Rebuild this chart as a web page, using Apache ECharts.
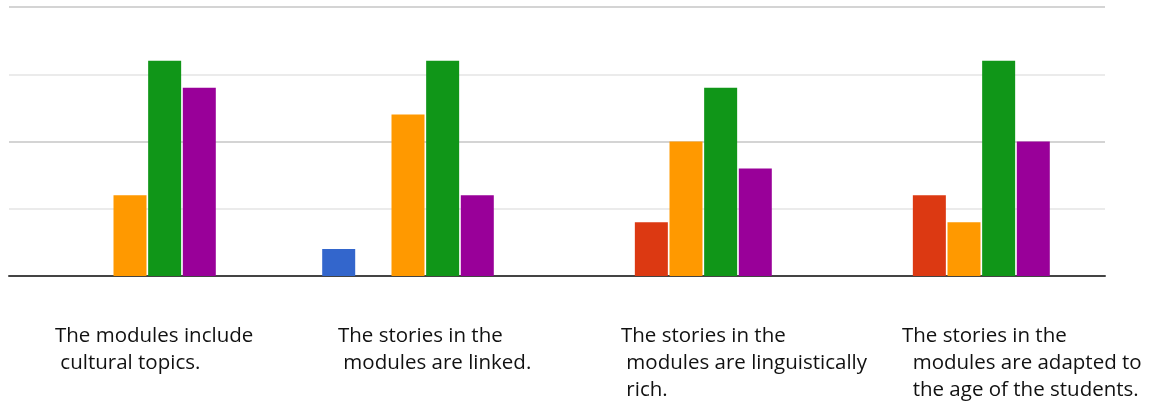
<!DOCTYPE html>
<html>
<head>
<meta charset="utf-8">
<script src="https://cdn.jsdelivr.net/npm/echarts@6/dist/echarts.min.js"></script>
<style>
  html, body { margin: 0; padding: 0; background: #fff; }
  #chart { width: 1149px; height: 410px; }
</style>
</head>
<body>
<div id="chart"></div>
<script>
// Survey statements (x categories); leading spaces indent the wrapped lines
const categories = [
  'The modules include\n cultural topics.',
  'The stories in the\n modules are linked.',
  'The stories in the\n modules are linguistically\n rich.',
  'The stories in the\n  modules are adapted to\n  the age of the students.'
];

// Response counts per answer option, one value per statement
const seriesNames = ['Option 1', 'Option 2', 'Option 3', 'Option 4', 'Option 5'];
const option1 = [0, 2, 0, 0];
const option2 = [0, 0, 4, 6];
const option3 = [6, 12, 10, 4];
const option4 = [16, 16, 14, 16];
const option5 = [14, 6, 8, 10];

// Value axis range
const yMin = 0;
const yMax = 20;
const yInterval = 10;

const palette = ['#3366cc', '#dc3912', '#ff9900', '#109618', '#990099'];
const seriesValues = [option1, option2, option3, option4, option5];

// Horizontal shift of each statement label from its category centre
const labelShift = [-75, -70, -65, -62];

const chart = echarts.init(document.getElementById('chart'), null, { renderer: 'canvas' });

const option = {
  animation: false,
  backgroundColor: '#ffffff',
  grid: [
    // bar groups: categories sit on the tick points from group 1 to group 4
    { left: 130, right: 185, top: 7, bottom: 134, containLabel: false },
    // gridlines and baseline across the full width
    { left: 9, right: 44, top: 7, bottom: 134, containLabel: false }
  ],
  xAxis: [
    {
      gridIndex: 0, type: 'category', data: categories, boundaryGap: false,
      axisLine: { show: false }, axisTick: { show: false }, axisLabel: { show: false },
      splitLine: { show: false }
    },
    {
      gridIndex: 1, type: 'category', data: ['', '', '', ''],
      axisLine: { show: true, lineStyle: { color: '#444444', width: 2 } },
      axisTick: { show: false }, axisLabel: { show: false }
    }
  ],
  yAxis: [
    {
      gridIndex: 0, type: 'value', min: yMin, max: yMax, interval: yInterval,
      axisLine: { show: false }, axisTick: { show: false }, axisLabel: { show: false },
      splitLine: { show: false }
    },
    {
      gridIndex: 1, type: 'value', min: yMin, max: yMax, interval: yInterval,
      axisLine: { show: false }, axisTick: { show: false }, axisLabel: { show: false },
      splitLine: { show: true, lineStyle: { color: '#d4d4d4', width: 2 } },
      minorTick: { show: false, splitNumber: 2 },
      minorSplitLine: { show: true, lineStyle: { color: '#ebebeb', width: 2 } }
    }
  ],
  series: seriesValues.map((vals, i) => ({
    name: seriesNames[i],
    type: 'bar',
    xAxisIndex: 0,
    yAxisIndex: 0,
    data: vals,
    barWidth: 33,
    barGap: '5%',
    clip: false,
    itemStyle: { color: palette[i] },
    z: 3
  }))
};

chart.setOption(option);

// Statement labels under the baseline, placed from the category axis positions
const labelTexts = categories.map((text, i) => {
  const cx = chart.convertToPixel({ xAxisIndex: 0 }, i);
  return {
    type: 'text',
    x: cx + labelShift[i],
    y: 323,
    style: {
      text: text,
      fill: '#111111',
      font: '20.5px "Open Sans", sans-serif',
      lineHeight: 27,
      align: 'left',
      verticalAlign: 'top'
    }
  };
});
chart.setOption({ graphic: labelTexts });
</script>
</body>
</html>
